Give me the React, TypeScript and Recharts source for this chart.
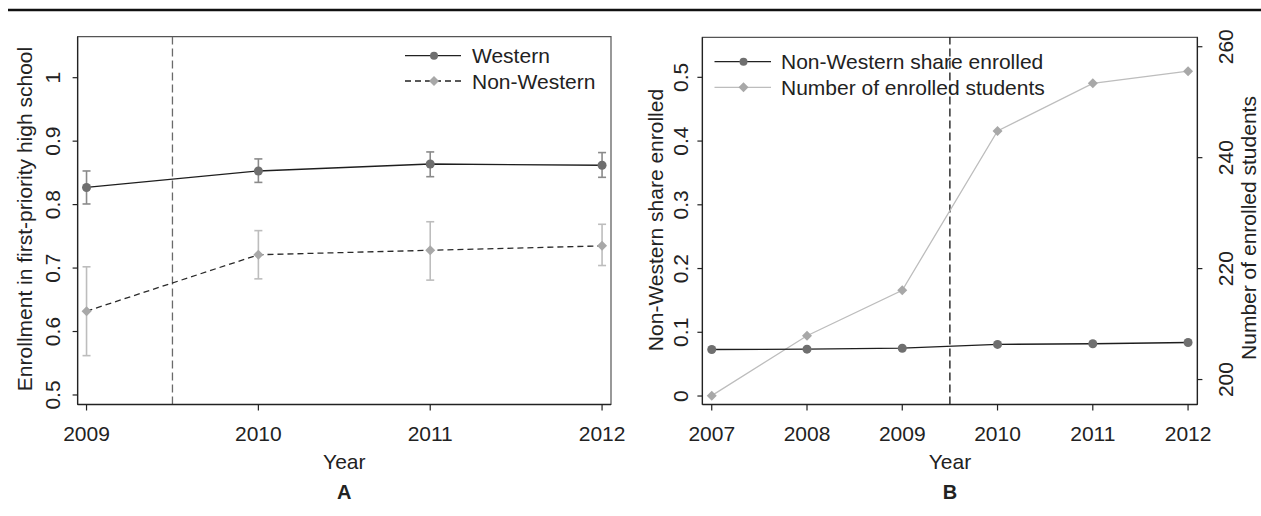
import React from 'react';
import { LineChart, Line, XAxis, YAxis, ErrorBar, ReferenceLine, ReferenceArea, Legend } from 'recharts';

const FONT = '"Liberation Sans", Arial, Helvetica, sans-serif';
const FS = 21;

// Panel A data
const yearsA = [2009, 2010, 2011, 2012];
const western = [0.827, 0.853, 0.864, 0.862];
const westernLo = [0.801, 0.835, 0.844, 0.843];
const westernHi = [0.853, 0.872, 0.883, 0.882];
const nonWestern = [0.632, 0.721, 0.728, 0.735];
const nonWesternLo = [0.562, 0.683, 0.681, 0.704];
const nonWesternHi = [0.702, 0.759, 0.773, 0.769];
const xTicksA = [2009, 2010, 2011, 2012];
const yTicksA = [0.5, 0.6, 0.7, 0.8, 0.9, 1];

// Panel B data
const yearsB = [2007, 2008, 2009, 2010, 2011, 2012];
const nwShare = [0.073, 0.0735, 0.075, 0.081, 0.082, 0.084];
const enrolled = [197.1, 207.9, 216.1, 244.8, 253.4, 255.6];
const xTicksB = [2007, 2008, 2009, 2010, 2011, 2012];
const yTicksBLeft = [0, 0.1, 0.2, 0.3, 0.4, 0.5];
const yTicksBRight = [200, 220, 240, 260];

const dataA = yearsA.map((year, i) => ({
  year,
  western: western[i],
  westernErr: [western[i] - westernLo[i], westernHi[i] - western[i]],
  nonWestern: nonWestern[i],
  nonWesternErr: [nonWestern[i] - nonWesternLo[i], nonWesternHi[i] - nonWestern[i]],
}));

const dataB = yearsB.map((year, i) => ({ year, share: nwShare[i], enrolled: enrolled[i] }));

const XTick = (props: any) => {
  const { x, y, payload } = props;
  return (
    <text x={x} y={y + 21} textAnchor="middle" dominantBaseline="central" fontSize={FS} fill="#222" fontFamily={FONT}>
      {payload.value}
    </text>
  );
};

const makeYTick = (dx: number) => (props: any) => {
  const { x, y, payload } = props;
  const cx = x + dx;
  return (
    <text x={cx} y={y} transform={`rotate(-90, ${cx}, ${y})`} textAnchor="middle" dominantBaseline="central" fontSize={FS} fill="#222" fontFamily={FONT}>
      {payload.value}
    </text>
  );
};

const CircleDot = (color: string, r: number) => (p: any) => (
  <circle key={`c-${p.index}`} cx={p.cx} cy={p.cy} r={r} fill={color} stroke="none" />
);
const DiamondDot = (color: string, s: number) => (p: any) => (
  <path key={`d-${p.index}`} d={`M${p.cx},${p.cy - s} L${p.cx + s},${p.cy} L${p.cx},${p.cy + s} L${p.cx - s},${p.cy} Z`} fill={color} stroke="none" />
);

const LegendA = () => (
  <svg width={230} height={60} style={{ overflow: 'visible' }}>
    <line x1={5} y1={15.7} x2={61} y2={15.7} stroke="#222" strokeWidth={1.3} />
    <circle cx={34} cy={15.7} r={4} fill="#6f6f6f" />
    <text x={72} y={15.7} dominantBaseline="central" fontSize={FS} fontFamily={FONT} fill="#222">Western</text>
    <line x1={5} y1={41} x2={61} y2={41} stroke="#222" strokeWidth={1.3} strokeDasharray="6 4" />
    <path d="M34,36 L39,41 L34,46 L29,41 Z" fill="#a8a8a8" />
    <text x={72} y={41} dominantBaseline="central" fontSize={FS} fontFamily={FONT} fill="#222">Non-Western</text>
  </svg>
);

const LegendB = () => (
  <svg width={330} height={60} style={{ overflow: 'visible' }}>
    <line x1={4.5} y1={16.7} x2={61} y2={16.7} stroke="#222" strokeWidth={1.3} />
    <circle cx={33.5} cy={16.7} r={4} fill="#6f6f6f" />
    <text x={71} y={16.7} dominantBaseline="central" fontSize={FS} fontFamily={FONT} fill="#222">Non-Western share enrolled</text>
    <line x1={4.5} y1={42.3} x2={61} y2={42.3} stroke="#bdbdbd" strokeWidth={1.3} />
    <path d="M33.5,37.3 L38.5,42.3 L33.5,47.3 L28.5,42.3 Z" fill="#a8a8a8" />
    <text x={71} y={42.3} dominantBaseline="central" fontSize={FS} fontFamily={FONT} fill="#222">Number of enrolled students</text>
  </svg>
);

const domXA: [number, number] = [2008.948, 2012.052];
const domYA: [number, number] = [0.485, 1.0646];
const domXB: [number, number] = [2006.902, 2012.098];
const domYBL: [number, number] = [-0.0133, 0.5628];
const domYBR: [number, number] = [195.5, 261.7];

export default function App() {
  return (
    <div style={{ position: 'absolute', left: 0, top: 0, width: 1261, height: 516, background: '#fff', fontFamily: FONT }}>
      <div style={{ position: 'absolute', left: 0, top: 0 }}>
        <LineChart width={630} height={516} data={dataA} margin={{ top: 36.7, right: 19, bottom: 81.5, left: 17.6 }}>
          <XAxis type="number" dataKey="year" domain={domXA} ticks={xTicksA} allowDataOverflow height={30}
            axisLine={{ stroke: '#222', strokeWidth: 1.3 }} tickLine={{ stroke: '#222', strokeWidth: 1.2 }} tickSize={6} tick={XTick} />
          <YAxis type="number" domain={domYA} ticks={yTicksA} allowDataOverflow width={60}
            axisLine={{ stroke: '#222', strokeWidth: 1.3 }} tickLine={{ stroke: '#222', strokeWidth: 1.2 }} tickSize={5} tick={makeYTick(-17.6)} />
          <ReferenceArea x1={domXA[0]} x2={domXA[1]} y1={domYA[0]} y2={domYA[1]} fill="none" stroke="#555" strokeWidth={1.2} ifOverflow="visible" />
          <ReferenceLine x={2009.5} stroke="#6a6a6a" strokeWidth={1.3} strokeDasharray="8 4" />
          <Line dataKey="western" stroke="#1e1e1e" strokeWidth={1.3} isAnimationActive={false} dot={CircleDot('#6f6f6f', 4.5)} activeDot={false}>
            <ErrorBar dataKey="westernErr" direction="y" width={4} stroke="#8a8a8a" strokeWidth={1.6} />
          </Line>
          <Line dataKey="nonWestern" stroke="#2a2a2a" strokeWidth={1.3} strokeDasharray="6 4" isAnimationActive={false} dot={DiamondDot('#a8a8a8', 5)} activeDot={false}>
            <ErrorBar dataKey="nonWesternErr" direction="y" width={4} stroke="#bdbdbd" strokeWidth={1.6} />
          </Line>
          <Legend layout="horizontal" verticalAlign="middle" align="center" content={LegendA}
            wrapperStyle={{ left: 400, top: 40, width: 230, height: 60 }} />
        </LineChart>
      </div>
      <div style={{ position: 'absolute', left: 630, top: 0 }}>
        <LineChart width={631} height={516} data={dataB} margin={{ top: 37.3, right: 23.6, bottom: 81.5, left: 32.4 }}>
          <XAxis type="number" dataKey="year" domain={domXB} ticks={xTicksB} allowDataOverflow height={30}
            axisLine={{ stroke: '#222', strokeWidth: 1.3 }} tickLine={{ stroke: '#222', strokeWidth: 1.2 }} tickSize={6} tick={XTick} />
          <YAxis yAxisId="left" type="number" domain={domYBL} ticks={yTicksBLeft} allowDataOverflow width={40}
            axisLine={{ stroke: '#222', strokeWidth: 1.3 }} tickLine={{ stroke: '#222', strokeWidth: 1.2 }} tickSize={5} tick={makeYTick(-15)} />
          <YAxis yAxisId="right" orientation="right" type="number" domain={domYBR} ticks={yTicksBRight} allowDataOverflow width={40}
            axisLine={{ stroke: '#222', strokeWidth: 1.3 }} tickLine={{ stroke: '#222', strokeWidth: 1.2 }} tickSize={5} tick={makeYTick(21.2)} />
          <ReferenceArea yAxisId="left" x1={domXB[0]} x2={domXB[1]} y1={domYBL[0]} y2={domYBL[1]} fill="none" stroke="#555" strokeWidth={1.2} ifOverflow="visible" />
          <ReferenceLine yAxisId="left" x={2009.5} stroke="#111" strokeWidth={1.3} strokeDasharray="8 4" />
          <Line yAxisId="right" dataKey="enrolled" stroke="#bdbdbd" strokeWidth={1.3} isAnimationActive={false} dot={DiamondDot('#a8a8a8', 5)} activeDot={false} />
          <Line yAxisId="left" dataKey="share" stroke="#1e1e1e" strokeWidth={1.3} isAnimationActive={false} dot={CircleDot('#6f6f6f', 4.5)} activeDot={false} />
          <Legend layout="horizontal" verticalAlign="middle" align="center" content={LegendB}
            wrapperStyle={{ left: 80, top: 45, width: 330, height: 60 }} />
        </LineChart>
      </div>
      <svg width={1261} height={516} style={{ position: 'absolute', left: 0, top: 0, pointerEvents: 'none' }}>
        <line x1={8} y1={10} x2={1261} y2={10} stroke="#111" strokeWidth={2.5} />
        <text x={24.5} y={219} transform="rotate(-90, 24.5, 219)" textAnchor="middle" dominantBaseline="central" fontSize={FS} fontFamily={FONT} fill="#222">
          Enrollment in first-priority high school
        </text>
        <text x={344.3} y={461.7} textAnchor="middle" dominantBaseline="central" fontSize={FS} fontFamily={FONT} fill="#222">Year</text>
        <text x={344.3} y={491.7} textAnchor="middle" dominantBaseline="central" fontSize={20} fontWeight="bold" fontFamily={FONT} fill="#222">A</text>
        <text x={655} y={220} transform="rotate(-90, 655, 220)" textAnchor="middle" dominantBaseline="central" fontSize={FS} fontFamily={FONT} fill="#222">
          Non-Western share enrolled
        </text>
        <text x={1248.5} y={228} transform="rotate(-90, 1248.5, 228)" textAnchor="middle" dominantBaseline="central" fontSize={FS} fontFamily={FONT} fill="#222">
          Number of enrolled students
        </text>
        <text x={950} y={461.7} textAnchor="middle" dominantBaseline="central" fontSize={FS} fontFamily={FONT} fill="#222">Year</text>
        <text x={950} y={491.7} textAnchor="middle" dominantBaseline="central" fontSize={20} fontWeight="bold" fontFamily={FONT} fill="#222">B</text>
      </svg>
    </div>
  );
}
